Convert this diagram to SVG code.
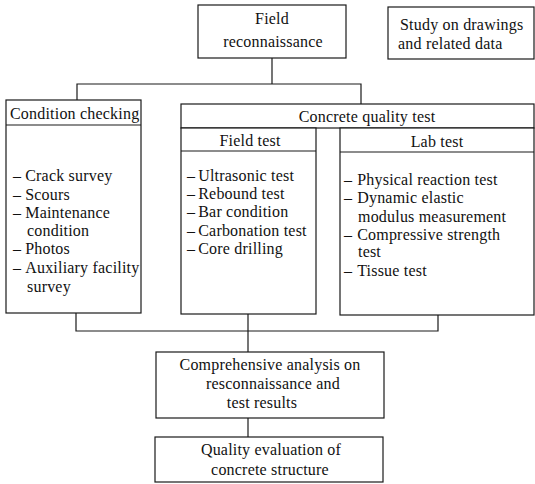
<svg xmlns="http://www.w3.org/2000/svg" width="535" height="484" viewBox="0 0 535 484">
<style>
rect.b{fill:#fff;stroke:#1a1a1a;stroke-width:1.2}
line,polyline{stroke:#1a1a1a;stroke-width:1.2;fill:none}
text{font-family:"Liberation Serif","Times New Roman",serif;font-size:16px;letter-spacing:0.2px;fill:#111}
.c{text-anchor:middle}
</style>
<rect width="535" height="484" fill="#fff"/>
<g id="connectors">
<line x1="272" y1="58" x2="272" y2="84"/>
<polyline points="77,100 77,84 361,84 361,104"/>
<polyline points="76,313 76,331 438,331 438,315"/>
<line x1="248" y1="314" x2="248" y2="352"/>
<line x1="248" y1="418" x2="248" y2="437"/>
</g>
<g id="field-reconnaissance">
<rect class="b" x="198" y="5" width="148" height="53"/>
<text class="c" x="272" y="24">Field</text>
<text class="c" x="273" y="47">reconnaissance</text>
</g>
<g id="study">
<rect class="b" x="388" y="7" width="146" height="52"/>
<text x="400" y="30">Study on drawings</text>
<text x="398" y="49">and related data</text>
</g>
<g id="condition-checking">
<rect class="b" x="6" y="100" width="135" height="213"/>
<line x1="6" y1="125" x2="141" y2="125"/>
<text x="10" y="119">Condition checking</text>
<text x="13" y="181">–<tspan dx="4">Crack survey</tspan></text>
<text x="13" y="200">–<tspan dx="4">Scours</tspan></text>
<text x="13" y="218">–<tspan dx="4">Maintenance</tspan></text>
<text x="27" y="236">condition</text>
<text x="13" y="254">–<tspan dx="4">Photos</tspan></text>
<text x="13" y="273">–<tspan dx="4">Auxiliary facility</tspan></text>
<text x="27" y="292">survey</text>
</g>
<g id="concrete-quality-test">
<rect class="b" x="181" y="104" width="353" height="24"/>
<text class="c" x="367" y="122">Concrete quality test</text>
</g>
<g id="field-test">
<rect class="b" x="181" y="128" width="135" height="186"/>
<line x1="181" y1="151" x2="316" y2="151"/>
<text class="c" x="250" y="146">Field test</text>
<text x="187" y="181">–<tspan dx="3">Ultrasonic test</tspan></text>
<text x="187" y="199">–<tspan dx="3">Rebound test</tspan></text>
<text x="187" y="217">–<tspan dx="3">Bar condition</tspan></text>
<text x="187" y="236">–<tspan dx="3">Carbonation test</tspan></text>
<text x="187" y="254">–<tspan dx="3">Core drilling</tspan></text>
</g>
<g id="lab-test">
<rect class="b" x="340" y="128" width="194" height="187"/>
<line x1="340" y1="152" x2="534" y2="152"/>
<text class="c" x="437" y="147">Lab test</text>
<text x="344" y="185">–<tspan dx="5">Physical reaction test</tspan></text>
<text x="344" y="203">–<tspan dx="5">Dynamic elastic</tspan></text>
<text x="358" y="222">modulus measurement</text>
<text x="344" y="240">–<tspan dx="5">Compressive strength</tspan></text>
<text x="358" y="257">test</text>
<text x="344" y="276">–<tspan dx="5">Tissue test</tspan></text>
</g>
<g id="comprehensive-analysis">
<rect class="b" x="156" y="352" width="228" height="66"/>
<text class="c" x="270" y="370">Comprehensive analysis on</text>
<text class="c" x="273" y="389">resconnaissance and</text>
<text class="c" x="262" y="408">test results</text>
</g>
<g id="quality-evaluation">
<rect class="b" x="155" y="437" width="228" height="45"/>
<text class="c" x="271" y="455">Quality evaluation of</text>
<text class="c" x="270" y="475">concrete structure</text>
</g>
</svg>
